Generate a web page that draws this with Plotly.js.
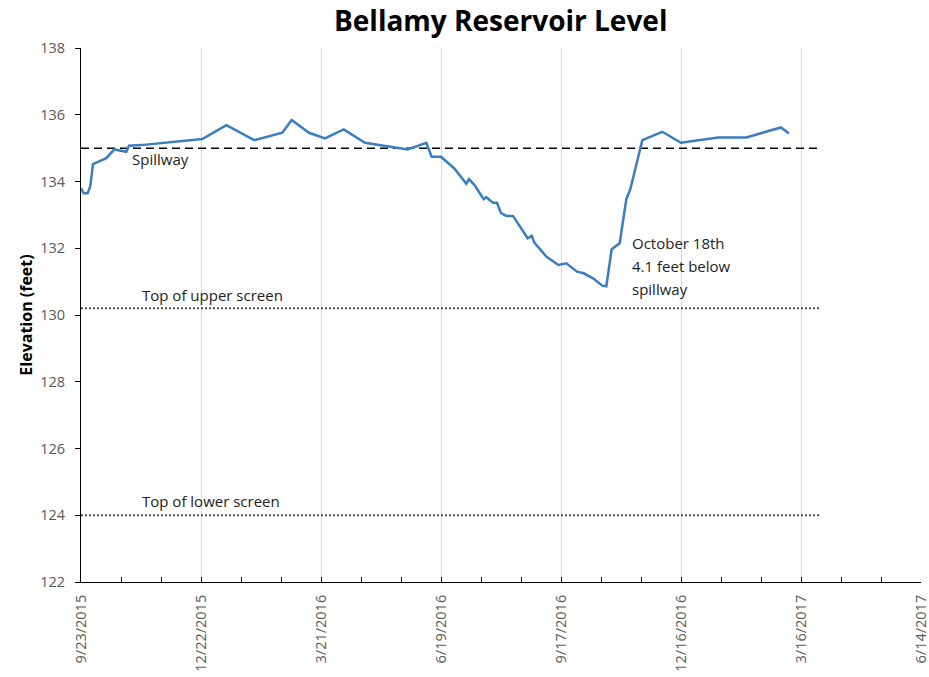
<!DOCTYPE html>
<html>
<head>
<meta charset="utf-8">
<script src="https://cdn.plot.ly/plotly-3.0.1.min.js"></script>
<style>html,body{margin:0;padding:0;background:#fff}#chart{width:929px;height:677px}</style>
</head>
<body>
<div id="chart"></div>
<script>
var dates = ["2015-09-23","2015-09-25","2015-09-28","2015-09-30","2015-10-02","2015-10-12","2015-10-18","2015-10-27","2015-10-29","2015-11-07","2015-12-23","2016-01-10","2016-01-31","2016-02-21","2016-02-28","2016-03-12","2016-03-24","2016-04-07","2016-04-23","2016-05-25","2016-06-08","2016-06-12","2016-06-19","2016-06-29","2016-07-08","2016-07-10","2016-07-14","2016-07-21","2016-07-23","2016-07-28","2016-07-31","2016-08-03","2016-08-07","2016-08-12","2016-08-23","2016-08-26","2016-08-28","2016-09-06","2016-09-15","2016-09-21","2016-09-29","2016-10-04","2016-10-11","2016-10-18","2016-10-21","2016-10-25","2016-10-31","2016-11-05","2016-11-08","2016-11-17","2016-12-02","2016-12-16","2017-01-13","2017-02-03","2017-03-01","2017-03-07"];
var elevation = [133.80,133.65,133.65,133.87,134.52,134.70,134.96,134.89,135.07,135.09,135.27,135.69,135.24,135.46,135.84,135.46,135.29,135.56,135.16,134.96,135.16,134.74,134.74,134.39,133.93,134.07,133.90,133.47,133.53,133.36,133.36,133.05,132.97,132.97,132.30,132.37,132.17,131.75,131.50,131.55,131.30,131.25,131.10,130.88,130.86,131.97,132.15,133.47,133.77,135.24,135.49,135.16,135.32,135.32,135.62,135.44];
var refDates = ["2015-09-23","2017-03-31"];
var spillway = [135, 135];
var upperScreen = [130.2, 130.2];
var lowerScreen = [124, 124];
var xTicks = ["2015-09-23","2015-12-22","2016-03-21","2016-06-19","2016-09-17","2016-12-16","2017-03-16","2017-06-14"];
var noteLines = ["October 18th", "4.1 feet below", "spillway"];
var noteY = [132.16, 131.47, 130.78];

var font = "'Open Sans', sans-serif";
var traces = [
  {x: refDates, y: spillway, mode: "lines", line: {color: "#000", width: 1.5, dash: "8px,5px"}, hoverinfo: "skip"},
  {x: refDates, y: upperScreen, mode: "lines", line: {color: "#4d4d4d", width: 2, dash: "2px,2px"}, hoverinfo: "skip"},
  {x: refDates, y: lowerScreen, mode: "lines", line: {color: "#4d4d4d", width: 2, dash: "2px,2px"}, hoverinfo: "skip"},
  {x: dates, y: elevation, mode: "lines", line: {color: "#3b7dc2", width: 2.5}}
];
var annFont = {family: font, size: 15, color: "#222"};
var ann = [
  {x: "2015-10-30", y: 134.66, xref: "x", yref: "y", text: "Spillway", showarrow: false, xanchor: "left", yanchor: "middle", font: annFont},
  {x: "2015-11-06", y: 130.6, xref: "x", yref: "y", text: "Top of upper screen", showarrow: false, xanchor: "left", yanchor: "middle", font: annFont},
  {x: "2015-11-06", y: 124.42, xref: "x", yref: "y", text: "Top of lower screen", showarrow: false, xanchor: "left", yanchor: "middle", font: annFont}
];
for (var i = 0; i < noteLines.length; i++) {
  ann.push({x: "2016-11-08", y: noteY[i], xref: "x", yref: "y", text: noteLines[i], showarrow: false, xanchor: "left", yanchor: "middle", font: annFont});
}
var layout = {
  width: 929, height: 677,
  margin: {l: 81, r: 8, t: 48, b: 95},
  showlegend: false,
  paper_bgcolor: "#fff", plot_bgcolor: "#fff",
  title: {text: "<b>Bellamy Reservoir Level</b>", font: {family: font, size: 28, color: "#000"}, x: 0.539, xanchor: "center", y: 0.968, yanchor: "middle"},
  xaxis: {
    type: "date", range: ["2015-09-23","2017-06-14"],
    tickmode: "array", tickvals: xTicks, tickformat: "%-m/%-d/%Y", tickangle: -90,
    showgrid: true, gridcolor: "#d9d9d9", gridwidth: 1,
    showline: true, linecolor: "#000", linewidth: 1,
    ticks: "inside", ticklen: 5, tickcolor: "#000",
    minor: {tick0: "2015-09-23", dtick: 30*86400000, ticks: "inside", ticklen: 5, tickcolor: "#000", showgrid: false},
    tickfont: {family: font, size: 14.5, color: "#595959"},
    ticklabelstandoff: 6,
    ticklabeloverflow: "allow",
    zeroline: false
  },
  yaxis: {
    range: [122, 138], dtick: 2, tick0: 122,
    showgrid: false, showline: true, linecolor: "#000", linewidth: 1,
    ticks: "outside", ticklen: 5, tickcolor: "#000",
    tickfont: {family: font, size: 14.5, color: "#595959"},
    ticklabelstandoff: 7,
    title: {text: "<b>Elevation (feet)</b>", font: {family: font, size: 16, color: "#000"}, standoff: 3},
    zeroline: false
  },
  annotations: ann
};
Plotly.newPlot("chart", traces, layout, {displayModeBar: false, staticPlot: true});
</script>
</body>
</html>
